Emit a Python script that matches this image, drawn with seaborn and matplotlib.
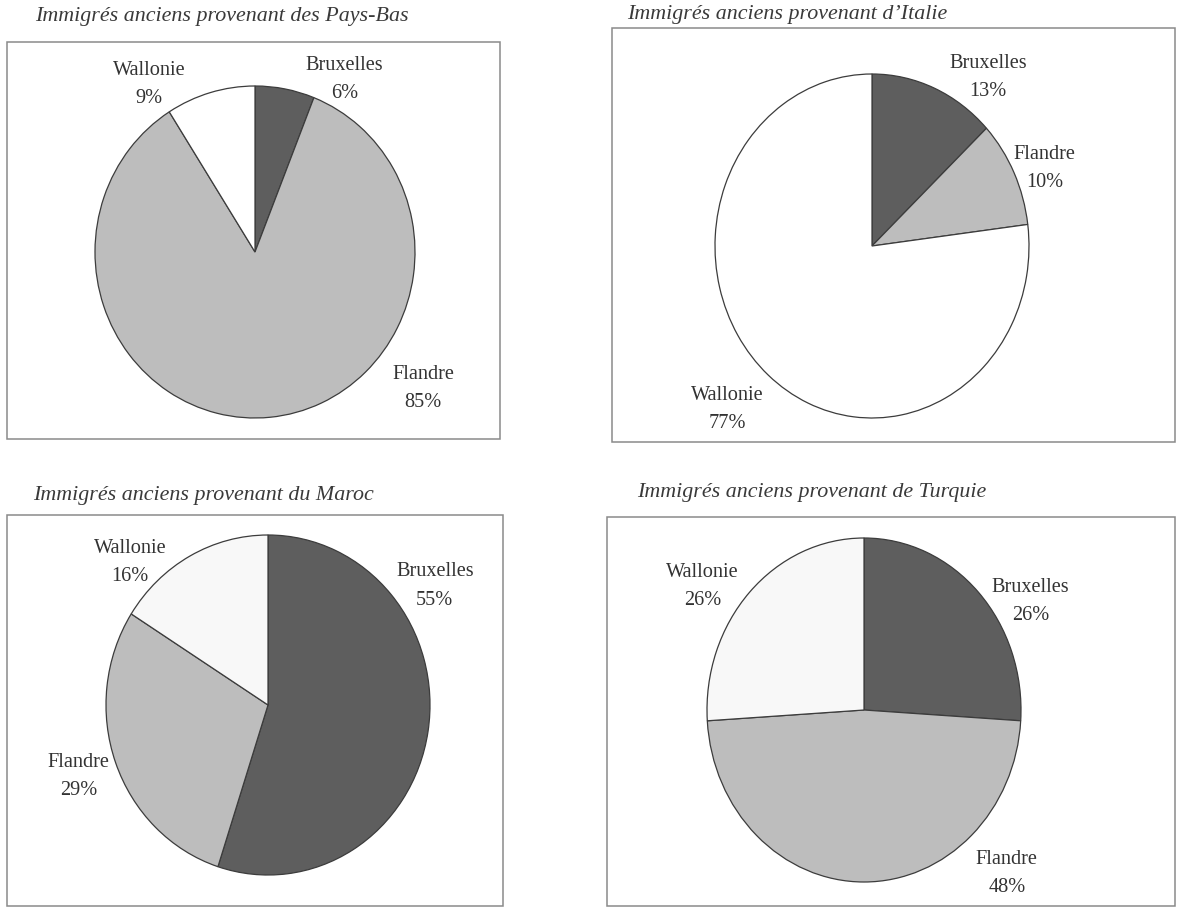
import numpy as np
import seaborn as sns
import matplotlib.pyplot as plt
from matplotlib.patches import Rectangle

# data
regions = ["Bruxelles", "Flandre", "Wallonie"]
titles = ["Immigrés anciens provenant des Pays-Bas",
          "Immigrés anciens provenant d\u2019Italie",
          "Immigrés anciens provenant du Maroc",
          "Immigrés anciens provenant de Turquie"]
pays_bas = [6, 85, 9]
italie = [13, 10, 77]
maroc = [55, 29, 16]
turquie = [26, 48, 26]
shares = [pays_bas, italie, maroc, turquie]

# layout (pixels of the 1177x909 page)
W, H = 1177, 909
pie_geo = [(255, 252, 160, 166), (872, 246, 157, 172),
           (268, 705, 162, 170), (864, 710, 157, 172)]
boxes = [(7, 42, 500, 439), (612, 28, 1175, 442),
         (7, 515, 503, 906), (607, 517, 1175, 906)]
title_pos = [(35, 17), (627, 15), (33, 495), (637, 493)]
# label centres in pie-radius units, order = regions
label_pos = [
    [(0.56, 1.04), (1.05, -0.82), (-0.66, 1.01)],
    [(0.74, 0.98), (1.10, 0.45), (-0.92, -0.95)],
    [(1.03, 0.70), (-1.17, -0.42), (-0.85, 0.84)],
    [(1.06, 0.63), (0.91, -0.95), (-1.03, 0.72)],
]
wallonie_fill = ["#ffffff", "#ffffff", "#f8f8f8", "#f8f8f8"]

sns.set_theme(style="white")
plt.rcParams['font.family'] = ['Liberation Serif', 'DejaVu Serif']

fig = plt.figure(figsize=(W / 100, H / 100), dpi=100)
fig.patch.set_facecolor("white")

for i in range(4):
    x0, y0, x1, y1 = boxes[i]
    fig.patches.append(Rectangle((x0 / W, 1 - y1 / H), (x1 - x0) / W, (y1 - y0) / H,
                                 transform=fig.transFigure, fill=False,
                                 edgecolor="#8a8a8a", linewidth=1.1))
    tx, ty = title_pos[i]
    fig.text(tx / W, 1 - ty / H, titles[i], fontsize=15.8, style="italic",
             color="#3a3a3a", ha="left", va="center")

    cx, cy, rx, ry = pie_geo[i]
    ax = fig.add_axes([(cx - rx) / W, 1 - (cy + ry) / H, 2 * rx / W, 2 * ry / H])
    colors = ["#5e5e5e", "#bdbdbd", wallonie_fill[i]]
    ax.pie(shares[i], colors=colors, startangle=90, counterclock=False,
           wedgeprops=dict(edgecolor="#3c3c3c", linewidth=0.9))
    ax.set_aspect("auto")
    ax.set_xlim(-1, 1)
    ax.set_ylim(-1, 1)
    ax.axis("off")
    for j, name in enumerate(regions):
        lx, ly = label_pos[i][j]
        ax.text(lx, ly, f"{name}\n{shares[i][j]}%", ha="center", va="center",
                fontsize=14.6, color="#333333", linespacing=1.65)

fig.savefig("out.png", dpi=100)
